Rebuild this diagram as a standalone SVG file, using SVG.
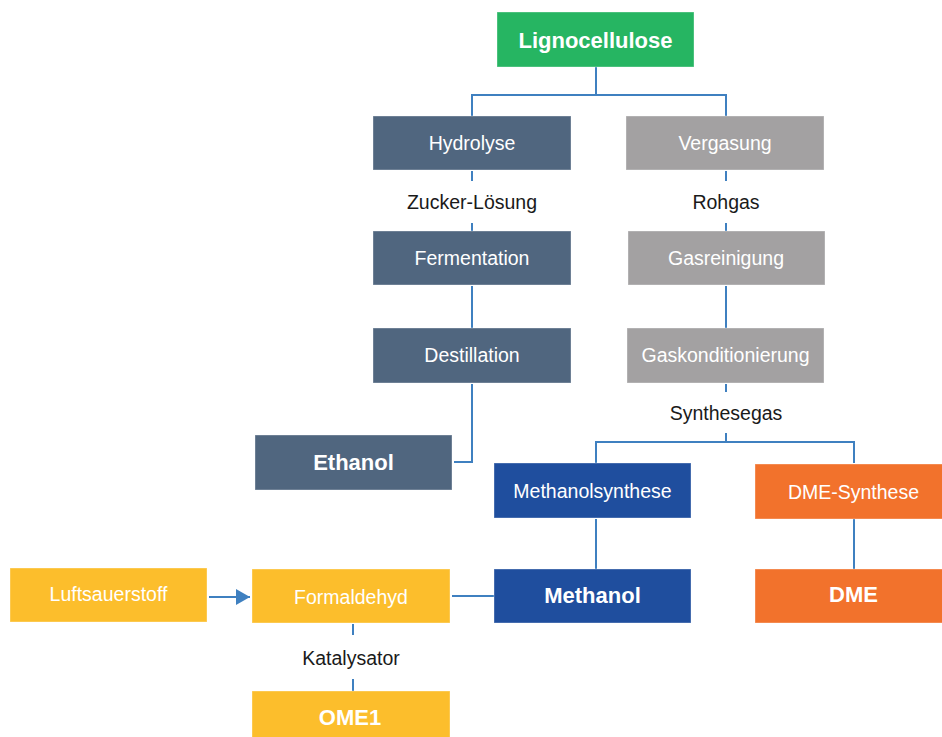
<svg xmlns="http://www.w3.org/2000/svg" width="942" height="737" viewBox="0 0 942 737">
<style>
.n{stroke:#ffffff;stroke-opacity:0.35;stroke-width:1}
.t{font-family:"Liberation Sans",Arial,sans-serif;font-size:19.5px;fill:#ffffff;text-anchor:middle;dominant-baseline:central}
.b{font-weight:bold;font-size:22px}
.l{font-family:"Liberation Sans",Arial,sans-serif;font-size:19.5px;fill:#1a1a1a;text-anchor:middle;dominant-baseline:central}
.c{fill:none;stroke:#3f80c0;stroke-width:2}
.green{fill:#26b562}.slate{fill:#50667f}.gray{fill:#a3a1a2}.blue{fill:#1f4e9e}.orange{fill:#f2722c}.yellow{fill:#fcbe2c}
</style>
<defs>
<marker id="ah" viewBox="0 0 14 16" refX="14" refY="8" markerWidth="14" markerHeight="16" markerUnits="userSpaceOnUse" orient="auto">
<polygon points="0,0 14,8 0,16" fill="#3f80c0"/>
</marker>
</defs>
<rect width="942" height="737" fill="#ffffff"/>
<g id="connectors">
<polyline class="c" points="596,67 596,95 472,95 472,116"/>
<polyline class="c" points="596,95 726,95 726,116"/>
<line class="c" x1="472" y1="171" x2="472" y2="181"/>
<line class="c" x1="472" y1="223" x2="472" y2="231"/>
<line class="c" x1="726" y1="171" x2="726" y2="181"/>
<line class="c" x1="726" y1="223" x2="726" y2="231"/>
<line class="c" x1="472" y1="286" x2="472" y2="328"/>
<line class="c" x1="726" y1="286" x2="726" y2="328"/>
<polyline class="c" points="472,384 472,462 454,462"/>
<line class="c" x1="726" y1="384" x2="726" y2="392"/>
<line class="c" x1="726" y1="433" x2="726" y2="442"/>
<polyline class="c" points="596,463 596,442 854,442 854,463"/>
<line class="c" x1="596" y1="519" x2="596" y2="569"/>
<line class="c" x1="854" y1="519" x2="854" y2="569"/>
<line class="c" x1="452" y1="596" x2="494" y2="596"/>
<line class="c" x1="209" y1="597" x2="250" y2="597" marker-end="url(#ah)"/>
<line class="c" x1="353" y1="624" x2="353" y2="635"/>
<line class="c" x1="353" y1="679" x2="353" y2="691"/>
</g>
<g id="lignocellulose"><rect class="n green" x="497" y="12" width="197" height="55"/><text class="t b" x="595.5" y="40">Lignocellulose</text></g>
<g id="hydrolyse"><rect class="n slate" x="373" y="116" width="198" height="54"/><text class="t" x="472" y="143">Hydrolyse</text></g>
<g id="vergasung"><rect class="n gray" x="626" y="116" width="198" height="54"/><text class="t" x="725" y="143">Vergasung</text></g>
<g id="zucker"><text class="l" x="472" y="202">Zucker-Lösung</text></g>
<g id="rohgas"><text class="l" x="726" y="202">Rohgas</text></g>
<g id="fermentation"><rect class="n slate" x="373" y="231" width="198" height="54"/><text class="t" x="472" y="258">Fermentation</text></g>
<g id="gasreinigung"><rect class="n gray" x="628" y="231" width="197" height="54"/><text class="t" x="726" y="258">Gasreinigung</text></g>
<g id="destillation"><rect class="n slate" x="373" y="328" width="198" height="55"/><text class="t" x="472" y="355">Destillation</text></g>
<g id="gaskonditionierung"><rect class="n gray" x="627" y="328" width="197" height="55"/><text class="t" x="725.5" y="355">Gaskonditionierung</text></g>
<g id="synthesegas"><text class="l" x="726" y="413">Synthesegas</text></g>
<g id="ethanol"><rect class="n slate" x="255" y="435" width="197" height="55"/><text class="t b" x="353.5" y="462.5">Ethanol</text></g>
<g id="methanolsynthese"><rect class="n blue" x="494" y="463" width="197" height="55"/><text class="t" x="592.5" y="490.5">Methanolsynthese</text></g>
<g id="dmesynthese"><rect class="n orange" x="755" y="464" width="197" height="55"/><text class="t" x="853.5" y="491.5">DME-Synthese</text></g>
<g id="luftsauerstoff"><rect class="n yellow" x="10" y="568" width="197" height="54"/><text class="t" x="108.5" y="594">Luftsauerstoff</text></g>
<g id="formaldehyd"><rect class="n yellow" x="252" y="569" width="198" height="54"/><text class="t" x="351" y="596.5">Formaldehyd</text></g>
<g id="methanol"><rect class="n blue" x="494" y="569" width="197" height="54"/><text class="t b" x="592.5" y="595.5">Methanol</text></g>
<g id="dme"><rect class="n orange" x="755" y="569" width="197" height="54"/><text class="t b" x="853.5" y="594">DME</text></g>
<g id="katalysator"><text class="l" x="351" y="658">Katalysator</text></g>
<g id="ome1"><rect class="n yellow" x="252" y="691" width="198" height="55"/><text class="t b" x="350" y="717">OME1</text></g>
</svg>
